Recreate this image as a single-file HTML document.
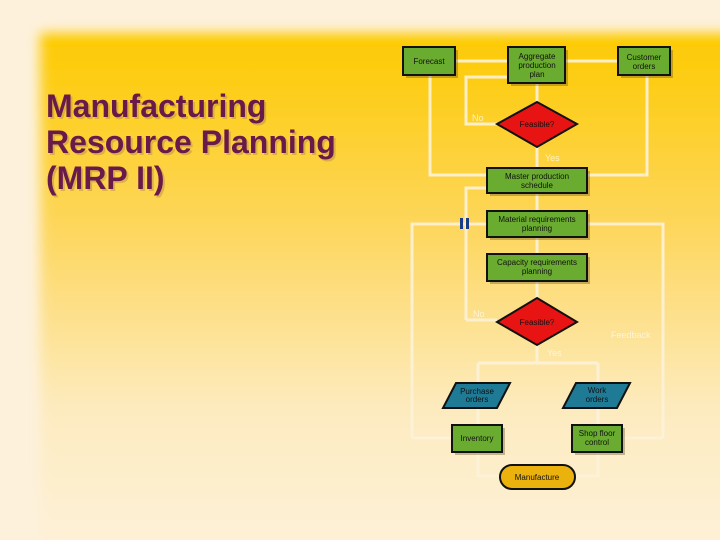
<!DOCTYPE html>
<html><head><meta charset="utf-8"><style>
html,body{margin:0;padding:0;background:#fdf1dc;width:720px;height:540px;overflow:hidden;}
svg{display:block}
.t{font-family:"Liberation Sans",sans-serif;font-size:8px;fill:#111;text-anchor:middle}
.w{font-family:"Liberation Sans",sans-serif;font-size:9px;fill:#fff7e0;opacity:.85}
.ln{stroke:#fdf2d8;stroke-width:3;fill:none;opacity:.9}
.bx{fill:#6aac30;stroke:#111;stroke-width:2}
.sh{fill:#5a4a20;opacity:.35}
</style></head><body>
<svg width="720" height="540" viewBox="0 0 720 540" xmlns="http://www.w3.org/2000/svg">
<defs>
<linearGradient id="g" x1="0" y1="0" x2="0" y2="1">
<stop offset="0" stop-color="#fdca00"/>
<stop offset="0.35" stop-color="#fdd65a"/>
<stop offset="0.7" stop-color="#fdebc0"/>
<stop offset="1" stop-color="#fdf2dc"/>
</linearGradient>
<filter id="b" x="-10%" y="-10%" width="120%" height="120%"><feGaussianBlur stdDeviation="6"/></filter>
</defs>
<rect width="720" height="540" fill="#fdf1dc"/>
<rect x="40" y="33" width="700" height="540" fill="url(#g)" filter="url(#b)"/>
<g font-family="Liberation Sans, sans-serif" font-weight="bold" font-size="32" fill="#6a1a4a">
<text x="46" y="117" fill="#b89050" opacity=".5" transform="translate(2,2)">Manufacturing</text>
<text x="46" y="153" fill="#b89050" opacity=".5" transform="translate(2,2)">Resource Planning</text>
<text x="46" y="189" fill="#b89050" opacity=".5" transform="translate(2,2)">(MRP II)</text>
<text x="46" y="117">Manufacturing</text>
<text x="46" y="153">Resource Planning</text>
<text x="46" y="189">(MRP II)</text>
</g>
<path class="ln" d="M455 61H508 M618 61H565 M537 83V102 M497 124H466V77H508 M537 147V168 M430 75V175H487 M647 75V175H587 M466 320V188H487 M537 193V211 M537 237V254 M537 281V298 M412 438V224H487 M663 438V224H587 M622 438H663 M452 438H412 M537 345V363 M478 363H598 M478 363V383 M598 363V383 M478 408V425 M598 408V425 M478 452V476H500 M598 452V476H575 M497 320H466"/>
<g>
<rect class="sh" x="406" y="50" width="52" height="28"/><rect class="bx" x="403" y="47" width="52" height="28"/>
<text class="t" x="429" y="64">Forecast</text>
<rect class="sh" x="511" y="50" width="57" height="36"/><rect class="bx" x="508" y="47" width="57" height="36"/>
<text class="t" x="537" y="59">Aggregate</text><text class="t" x="537" y="68">production</text><text class="t" x="537" y="77">plan</text>
<rect class="sh" x="621" y="50" width="52" height="28"/><rect class="bx" x="618" y="47" width="52" height="28"/>
<text class="t" x="644" y="60">Customer</text><text class="t" x="644" y="69">orders</text>
<polygon points="537,102 577,124 537,147 497,124" fill="#e81414" stroke="#111" stroke-width="2"/>
<text class="t" x="537" y="127">Feasible?</text>
<text class="w" x="472" y="121">No</text><text class="w" x="545" y="161">Yes</text>
<rect class="sh" x="490" y="171" width="100" height="25"/><rect class="bx" x="487" y="168" width="100" height="25"/>
<text class="t" x="537" y="179">Master production</text><text class="t" x="537" y="188">schedule</text>
<rect x="460" y="218" width="3" height="11" fill="#1a3a8a"/><rect x="466" y="218" width="3" height="11" fill="#1a3a8a"/>
<rect class="sh" x="490" y="214" width="100" height="26"/><rect class="bx" x="487" y="211" width="100" height="26"/>
<text class="t" x="537" y="222">Material requirements</text><text class="t" x="537" y="231">planning</text>
<rect class="sh" x="490" y="257" width="100" height="27"/><rect class="bx" x="487" y="254" width="100" height="27"/>
<text class="t" x="537" y="265">Capacity requirements</text><text class="t" x="537" y="274">planning</text>
<polygon points="537,298 577,322 537,345 497,322" fill="#e81414" stroke="#111" stroke-width="2"/>
<text class="t" x="537" y="325">Feasible?</text>
<text class="w" x="473" y="317">No</text><text class="w" x="547" y="356" font-size="7">Yes</text>
<text class="w" x="611" y="338">Feedback</text>
<polygon points="456,383 510,383 497,408 443,408" fill="#1f7a96" stroke="#111" stroke-width="2"/>
<text class="t" x="477" y="394">Purchase</text><text class="t" x="477" y="402">orders</text>
<polygon points="576,383 630,383 617,408 563,408" fill="#1f7a96" stroke="#111" stroke-width="2"/>
<text class="t" x="597" y="393">Work</text><text class="t" x="597" y="402">orders</text>
<rect class="sh" x="455" y="428" width="50" height="27"/><rect class="bx" x="452" y="425" width="50" height="27"/>
<text class="t" x="477" y="441">Inventory</text>
<rect class="sh" x="575" y="428" width="50" height="27"/><rect class="bx" x="572" y="425" width="50" height="27"/>
<text class="t" x="597" y="436">Shop floor</text><text class="t" x="597" y="445">control</text>
<rect x="500" y="465" width="75" height="24" rx="12" fill="#ebb20e" stroke="#111" stroke-width="2"/>
<text class="t" x="537" y="480">Manufacture</text>
</g>
</svg>
</body></html>
